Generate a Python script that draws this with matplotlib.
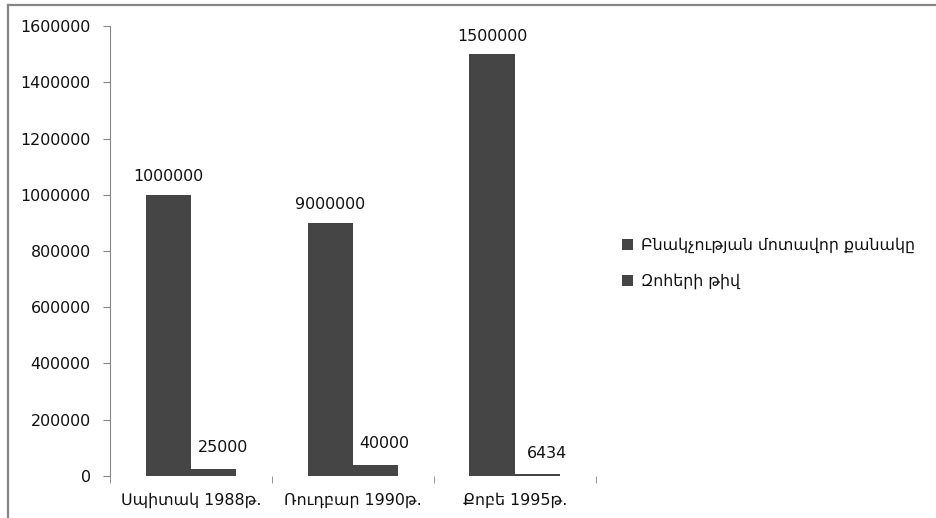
import numpy as np
import matplotlib
matplotlib.use("Agg")
import matplotlib.pyplot as plt
from matplotlib.lines import Line2D

# Earthquakes: approximate population and number of victims
cities = ["Սպիտակ 1988թ.", "Ռուդբար 1990թ.", "Քոբե 1995թ."]
population = [1000000, 900000, 1500000]
population_labels = ["1000000", "9000000", "1500000"]
victims = [25000, 40000, 6434]
series_names = ["Բնակչության մոտավոր քանակը", "Զոհերի թիվ"]
yticks = [0, 200000, 400000, 600000, 800000, 1000000, 1200000, 1400000, 1600000]

BAR_COLOR = "#454545"
AXIS_COLOR = "#868686"
TEXT_COLOR = "#111111"
FONT = "DejaVu Sans"
FS = 11.4

plt.rcParams["font.family"] = [FONT]

fig = plt.figure(figsize=(9.36, 5.18), dpi=100)
ax = fig.add_axes([0.1175, 0.0811, 0.519, 0.8687])

x = np.arange(len(cities))
w = 0.28
b1 = ax.bar(x - w / 2, population, w, color=BAR_COLOR, label=series_names[0])
b2 = ax.bar(x + w / 2, victims, w, color=BAR_COLOR, label=series_names[1])

for rect, txt in zip(b1, population_labels):
    ax.annotate(txt, (rect.get_x() + rect.get_width() / 2, rect.get_height()),
                xytext=(0, 18), textcoords="offset pixels",
                ha="center", va="center", fontsize=FS, color=TEXT_COLOR)
for rect, val in zip(b2, victims):
    ax.annotate(str(val), (rect.get_x() + rect.get_width() / 2, rect.get_height()),
                xytext=(9, 21), textcoords="offset pixels",
                ha="center", va="center", fontsize=FS, color=TEXT_COLOR)

ax.set_xlim(-0.5, 2.5)
ax.set_ylim(0, 1600000)
ax.set_yticks(yticks)
ax.set_yticklabels([str(v) for v in yticks], fontsize=FS, color=TEXT_COLOR)
ax.set_xticks(x)
ax.set_xticklabels(cities, fontsize=FS, color=TEXT_COLOR)
ax.tick_params(axis="x", length=0, pad=12)
ax.set_xticks([-0.5, 0.5, 1.5, 2.5], minor=True)
ax.tick_params(axis="x", which="minor", length=5, color=AXIS_COLOR, direction="out")
ax.tick_params(axis="y", length=5, color=AXIS_COLOR, pad=9)

for side in ["top", "right", "bottom"]:
    ax.spines[side].set_visible(False)
ax.spines["left"].set_color(AXIS_COLOR)

leg = ax.legend(loc="center left", bbox_to_anchor=(0.649, 0.492), bbox_transform=fig.transFigure,
                frameon=False, fontsize=FS, handlelength=0.7, handleheight=0.7,
                handletextpad=0.5, labelspacing=1.3)
for t in leg.get_texts():
    t.set_color(TEXT_COLOR)

# outer frame lines along the top and left edge
fig.add_artist(Line2D([8 / 936, 1], [1 - 5 / 518, 1 - 5 / 518], transform=fig.transFigure,
                      color=AXIS_COLOR, lw=1.6))
fig.add_artist(Line2D([8 / 936, 8 / 936], [0, 1 - 5 / 518], transform=fig.transFigure,
                      color=AXIS_COLOR, lw=1.6))

fig.savefig("out.png", dpi=100)
